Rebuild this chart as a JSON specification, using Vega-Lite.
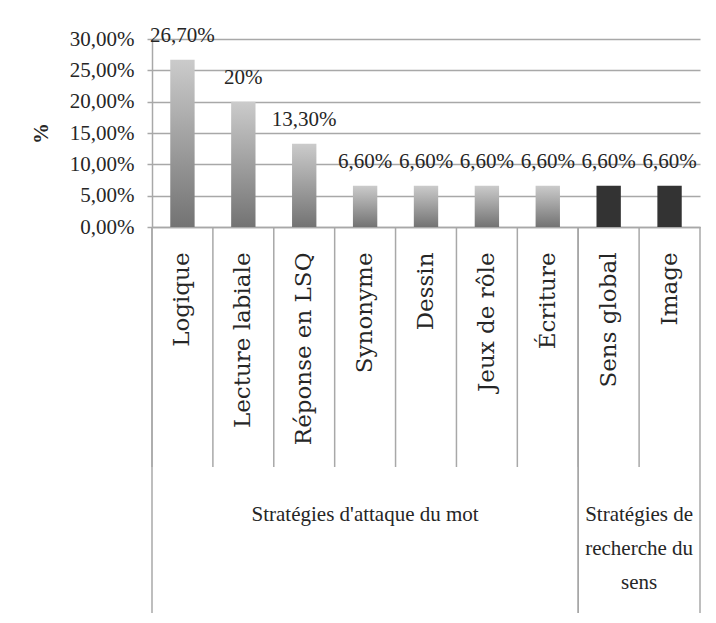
{
  "$schema": "https://vega.github.io/schema/vega-lite/v6.json",
  "autosize": "none",
  "width": 548,
  "height": 188,
  "padding": {"left": 152, "top": 39, "right": 16, "bottom": 396},
  "background": "white",
  "config": {
    "view": {"stroke": null},
    "locale": {"number": {"decimal": ",", "thousands": " ", "grouping": [3], "currency": ["", " €"]}},
    "axis": {"labelOverlap": false}
  },
  "datasets": {
    "bars": [
      {"cat": "Logique", "v": 0.267, "label": "26,70%", "group": "attaque"},
      {"cat": "Lecture labiale", "v": 0.2, "label": "20%", "group": "attaque"},
      {"cat": "Réponse en LSQ", "v": 0.133, "label": "13,30%", "group": "attaque"},
      {"cat": "Synonyme", "v": 0.066, "label": "6,60%", "group": "attaque"},
      {"cat": "Dessin", "v": 0.066, "label": "6,60%", "group": "attaque"},
      {"cat": "Jeux de rôle", "v": 0.066, "label": "6,60%", "group": "attaque"},
      {"cat": "Écriture", "v": 0.066, "label": "6,60%", "group": "attaque"},
      {"cat": "Sens global", "v": 0.066, "label": "6,60%", "group": "sens"},
      {"cat": "Image", "v": 0.066, "label": "6,60%", "group": "sens"}
    ],
    "groups": [
      {"group": "attaque", "cat": "Logique", "lastcat": "Écriture", "midcat": "Synonyme", "label": "Stratégies d'attaque du mot"},
      {"group": "sens", "cat": "Sens global", "lastcat": "Image", "midcat": "Image", "label": "Stratégies de\nrecherche du\nsens"}
    ]
  },
  "layer": [
    {
      "data": {"name": "bars"},
      "transform": [{"filter": "datum.group == 'attaque'"}],
      "mark": {"type": "bar", "width": {"band": 0.4}, "color": {"gradient": "linear", "x1": 0, "y1": 0, "x2": 0, "y2": 1, "stops": [{"offset": 0, "color": "#cbcbcb"}, {"offset": 1, "color": "#737373"}]}},
      "encoding": {
        "x": {"field": "cat", "type": "nominal", "title": null,
          "scale": {"domain": ["Logique", "Lecture labiale", "Réponse en LSQ", "Synonyme", "Dessin", "Jeux de rôle", "Écriture", "Sens global", "Image"], "paddingInner": 0, "paddingOuter": 0},
          "axis": {"labelAngle": -90, "labelPadding": 25, "ticks": false, "domainColor": "#a8a8a8", "domainWidth": 1.5, "labelFont": "DejaVu Serif", "labelFontSize": 23, "labelColor": "#262626", "labelLimit": 400}},
        "y": {"field": "v", "type": "quantitative", "title": "%",
          "scale": {"domain": [0, 0.3], "nice": false},
          "axis": {"values": [0, 0.05, 0.1, 0.15, 0.2, 0.25, 0.3], "tickCount": 12, "format": ".2%", "labelOverlap": false, "grid": true, "gridColor": "#a8a8a8", "gridWidth": 1.5, "domainColor": "#a8a8a8", "domainWidth": 1.5, "tickColor": "#a8a8a8", "tickWidth": 1.5, "tickSize": 5, "labelFont": "Liberation Serif", "labelFontSize": 21, "labelColor": "#262626", "labelPadding": 13, "titleFont": "Liberation Serif", "titleFontSize": 21, "titleFontWeight": "bold", "titleColor": "#262626", "titlePadding": 18}}
      }
    },
    {
      "data": {"name": "bars"},
      "transform": [{"filter": "datum.group == 'sens'"}],
      "mark": {"type": "bar", "width": {"band": 0.4}, "color": "#333333"},
      "encoding": {
        "x": {"field": "cat", "type": "nominal", "title": null},
        "y": {"field": "v", "type": "quantitative", "title": "%", "scale": {"domain": [0, 0.3], "nice": false}}
      }
    },
    {
      "data": {"name": "bars"},
      "mark": {"type": "text", "font": "Liberation Serif", "fontSize": 21, "color": "#262626", "baseline": "alphabetic", "dy": -18},
      "encoding": {
        "x": {"field": "cat", "type": "nominal", "title": null},
        "y": {"field": "v", "type": "quantitative", "title": "%", "scale": {"domain": [0, 0.3], "nice": false}},
        "text": {"field": "label"}
      }
    },
    {
      "data": {"name": "bars"},
      "mark": {"type": "rule", "color": "#a8a8a8", "strokeWidth": 1.5},
      "encoding": {
        "x": {"field": "cat", "type": "nominal", "title": null, "bandPosition": 0},
        "y": {"datum": 0, "type": "quantitative", "title": "%", "scale": {"domain": [0, 0.3], "nice": false}},
        "y2": {"datum": -0.383}
      }
    },
    {
      "data": {"name": "groups"},
      "mark": {"type": "rule", "color": "#a8a8a8", "strokeWidth": 1.5},
      "encoding": {
        "x": {"field": "cat", "type": "nominal", "title": null, "bandPosition": 0},
        "y": {"datum": 0, "type": "quantitative", "title": "%", "scale": {"domain": [0, 0.3], "nice": false}},
        "y2": {"datum": -0.616}
      }
    },
    {
      "data": {"name": "groups"},
      "mark": {"type": "rule", "color": "#a8a8a8", "strokeWidth": 1.5},
      "encoding": {
        "x": {"field": "lastcat", "type": "nominal", "title": null, "bandPosition": 1},
        "y": {"datum": 0, "type": "quantitative", "title": "%", "scale": {"domain": [0, 0.3], "nice": false}},
        "y2": {"datum": -0.616}
      }
    },
    {
      "data": {"name": "groups"},
      "transform": [{"filter": "datum.group == 'attaque'"}],
      "mark": {"type": "text", "font": "Liberation Serif", "fontSize": 21, "color": "#262626", "baseline": "middle"},
      "encoding": {
        "x": {"field": "midcat", "type": "nominal", "title": null, "bandPosition": 0.5},
        "y": {"datum": -0.46, "type": "quantitative", "title": "%", "scale": {"domain": [0, 0.3], "nice": false}},
        "text": {"field": "label"}
      }
    },
    {
      "data": {"name": "groups"},
      "transform": [{"filter": "datum.group == 'sens'"}],
      "mark": {"type": "text", "font": "Liberation Serif", "fontSize": 21, "color": "#262626", "baseline": "middle", "lineBreak": "\n", "lineHeight": 34},
      "encoding": {
        "x": {"field": "midcat", "type": "nominal", "title": null, "bandPosition": 0},
        "y": {"datum": -0.46, "type": "quantitative", "title": "%", "scale": {"domain": [0, 0.3], "nice": false}},
        "text": {"field": "label"}
      }
    }
  ]
}
